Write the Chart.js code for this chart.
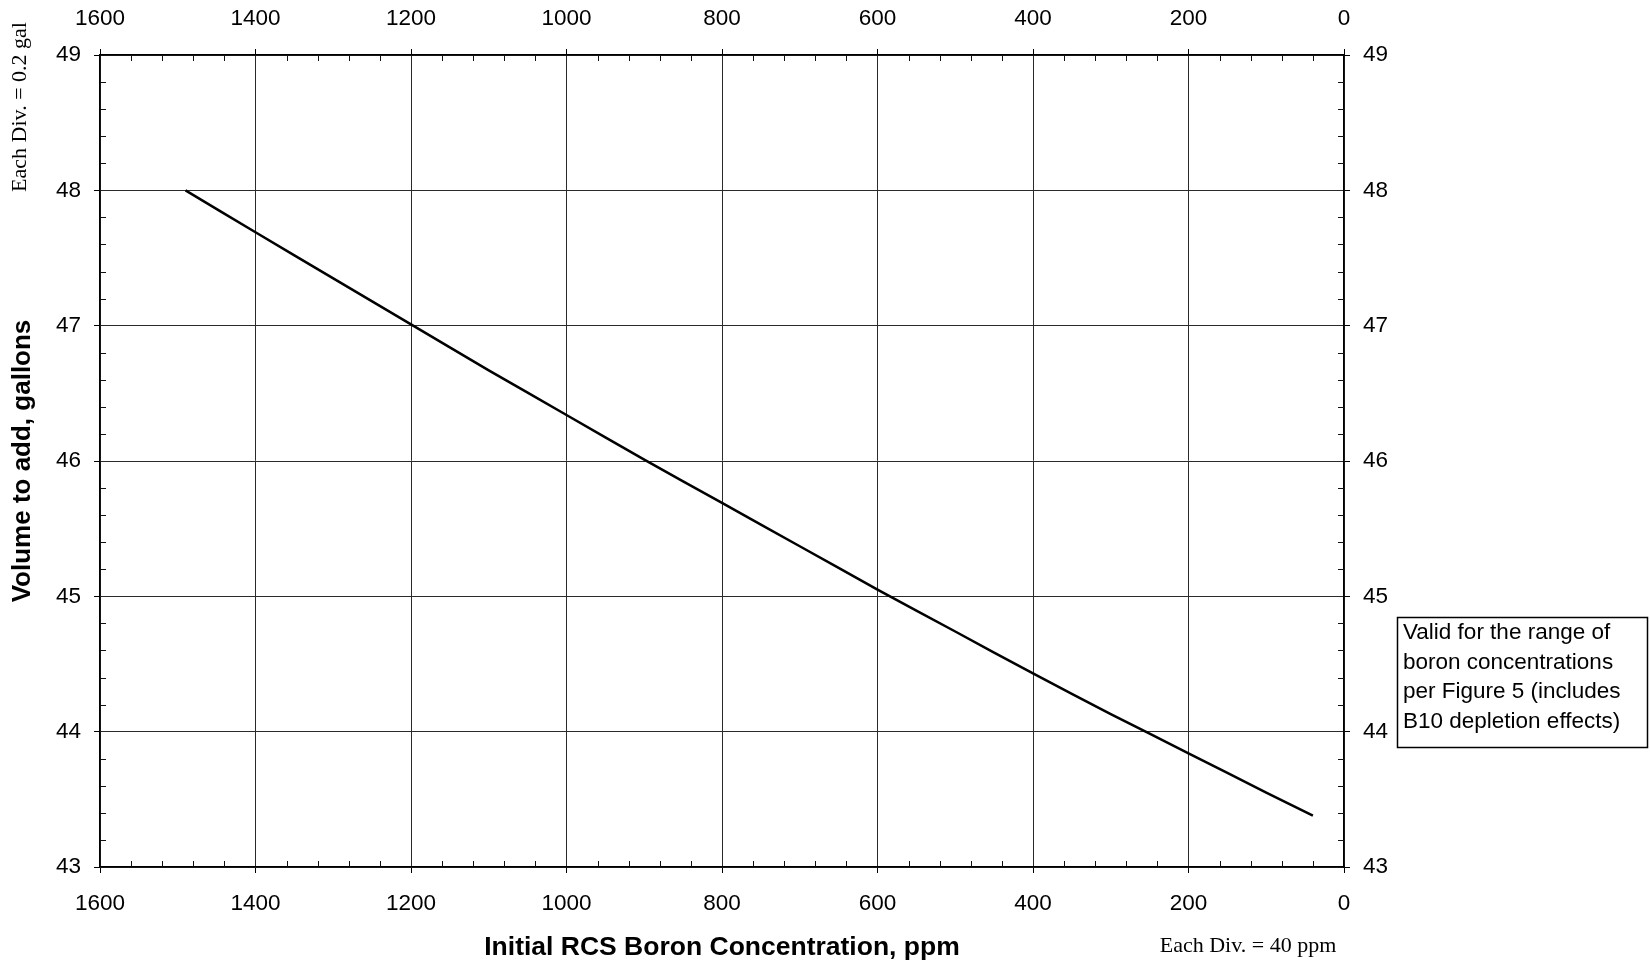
<!DOCTYPE html>
<html>
<head>
<meta charset="utf-8">
<script src="https://cdn.jsdelivr.net/npm/chart.js@4"></script>
<style>
  html, body { margin: 0; padding: 0; background: #fff; overflow: hidden; }
</style>
</head>
<body>
<canvas id="myChart" width="1650" height="967"></canvas>
<script>
// values
const boronPpm = [1490, 1400, 1300, 1200, 1100, 1000, 900, 800, 700, 600, 500, 400, 300, 200, 100, 40];
const volumeGal = [48.0, 47.69, 47.35, 47.01, 46.67, 46.34, 46.01, 45.69, 45.37, 45.05, 44.74, 44.43, 44.13, 43.84, 43.55, 43.38];
const noteLines = ["Valid for the range of", "boron concentrations", "per Figure 5 (includes", "B10 depletion effects)"];

const sans = "'Liberation Sans', Arial, sans-serif";
const serif = "'Liberation Serif', 'Times New Roman', serif";
const gridColor = "#2a2a2a";

const points = boronPpm.map((p, i) => ({ x: p, y: volumeGal[i] }));

// short inward ticks every 40 ppm / 0.2 gal, plus the side notes
const extras = {
  id: "extras",
  afterDatasetsDraw(chart) {
    const ctx = chart.ctx;
    const a = chart.chartArea;
    const xs = chart.scales.x;
    const ys = chart.scales.y;
    ctx.save();
    ctx.strokeStyle = "#111";
    ctx.lineWidth = 1;
    for (let v = 40; v < 1600; v += 40) {
      if (v % 200 === 0) continue;
      const px = Math.round(xs.getPixelForValue(v)) + 0.5;
      ctx.beginPath();
      ctx.moveTo(px, a.bottom); ctx.lineTo(px, a.bottom - 6);
      ctx.moveTo(px, a.top); ctx.lineTo(px, a.top + 6);
      ctx.stroke();
    }
    for (let k = 1; k < 30; k++) {
      if (k % 5 === 0) continue;
      const py = Math.round(ys.getPixelForValue(43 + k * 0.2)) + 0.5;
      ctx.beginPath();
      ctx.moveTo(a.left, py); ctx.lineTo(a.left + 6, py);
      ctx.moveTo(a.right, py); ctx.lineTo(a.right - 6, py);
      ctx.stroke();
    }

    // note box
    ctx.lineWidth = 1.5;
    ctx.strokeStyle = "#000";
    ctx.strokeRect(1397.5, 617.5, 250, 130);
    ctx.fillStyle = "#000";
    ctx.font = "22.5px " + sans;
    ctx.textAlign = "left";
    ctx.textBaseline = "middle";
    noteLines.forEach((t, i) => ctx.fillText(t, 1403, 633 + i * 29.5));

    // division notes
    ctx.font = "22px " + serif;
    ctx.textAlign = "center";
    ctx.fillText("Each Div. = 40 ppm", 1248, 946);
    ctx.translate(20, 107);
    ctx.rotate(-Math.PI / 2);
    ctx.fillText("Each Div. = 0.2 gal", 0, 0);
    ctx.restore();
  }
};

const tickFont = { family: sans, size: 22.5 };
const plain = (v) => String(v);

const ctx = document.getElementById("myChart").getContext("2d");
const chart = new Chart(ctx, {
  type: "scatter",
  data: {
    datasets: [
      {
        label: "Volume to add",
        data: points,
        showLine: true,
        borderColor: "#000",
        backgroundColor: "#000",
        borderWidth: 2.5,
        pointRadius: 0,
        tension: 0.2,
      },
    ],
  },
  options: {
    responsive: false,
    animation: false,
    devicePixelRatio: 1,
    layout: { padding: 0 },
    plugins: {
      legend: { display: false },
      tooltip: { enabled: false },
    },
    scales: {
      x: {
        type: "linear",
        position: "bottom",
        reverse: true,
        min: 0,
        max: 1600,
        afterFit: (s) => { s.height = 100; },
        ticks: { stepSize: 200, color: "#000", font: tickFont, padding: 17, maxRotation: 0, autoSkip: false, callback: plain },
        grid: { color: gridColor, lineWidth: 1, tickLength: 6, tickColor: "#000" },
        border: { display: true, color: "#000", width: 1.5 },
        title: {
          display: true,
          text: "Initial RCS Boron Concentration, ppm",
          color: "#000",
          font: { family: sans, size: 26.5, weight: "bold" },
          padding: { top: 0, bottom: 3 },
        },
      },
      x2: {
        type: "linear",
        position: "top",
        reverse: true,
        min: 0,
        max: 1600,
        afterFit: (s) => { s.height = 55; },
        ticks: { stepSize: 200, color: "#000", font: tickFont, padding: 17, maxRotation: 0, autoSkip: false, callback: plain },
        grid: { drawOnChartArea: false, tickLength: 6, tickColor: "#000" },
        border: { display: true, color: "#000", width: 1.5 },
      },
      y: {
        position: "left",
        min: 43,
        max: 49,
        afterFit: (s) => { s.width = 100; },
        ticks: { stepSize: 1, color: "#000", font: tickFont, padding: 13, callback: plain },
        grid: { color: gridColor, lineWidth: 1, tickLength: 6, tickColor: "#000" },
        border: { display: true, color: "#000", width: 1.5 },
        title: {
          display: true,
          text: "Volume to add, gallons",
          color: "#000",
          font: { family: sans, size: 26, weight: "bold" },
          padding: { top: 7, bottom: 0 },
        },
      },
      y2: {
        position: "right",
        min: 43,
        max: 49,
        afterFit: (s) => { s.width = 306; },
        ticks: { stepSize: 1, color: "#000", font: tickFont, padding: 13, callback: plain },
        grid: { drawOnChartArea: false, tickLength: 6, tickColor: "#000" },
        border: { display: true, color: "#000", width: 1.5 },
      },
    },
  },
  plugins: [extras],
});
</script>
</body>
</html>
